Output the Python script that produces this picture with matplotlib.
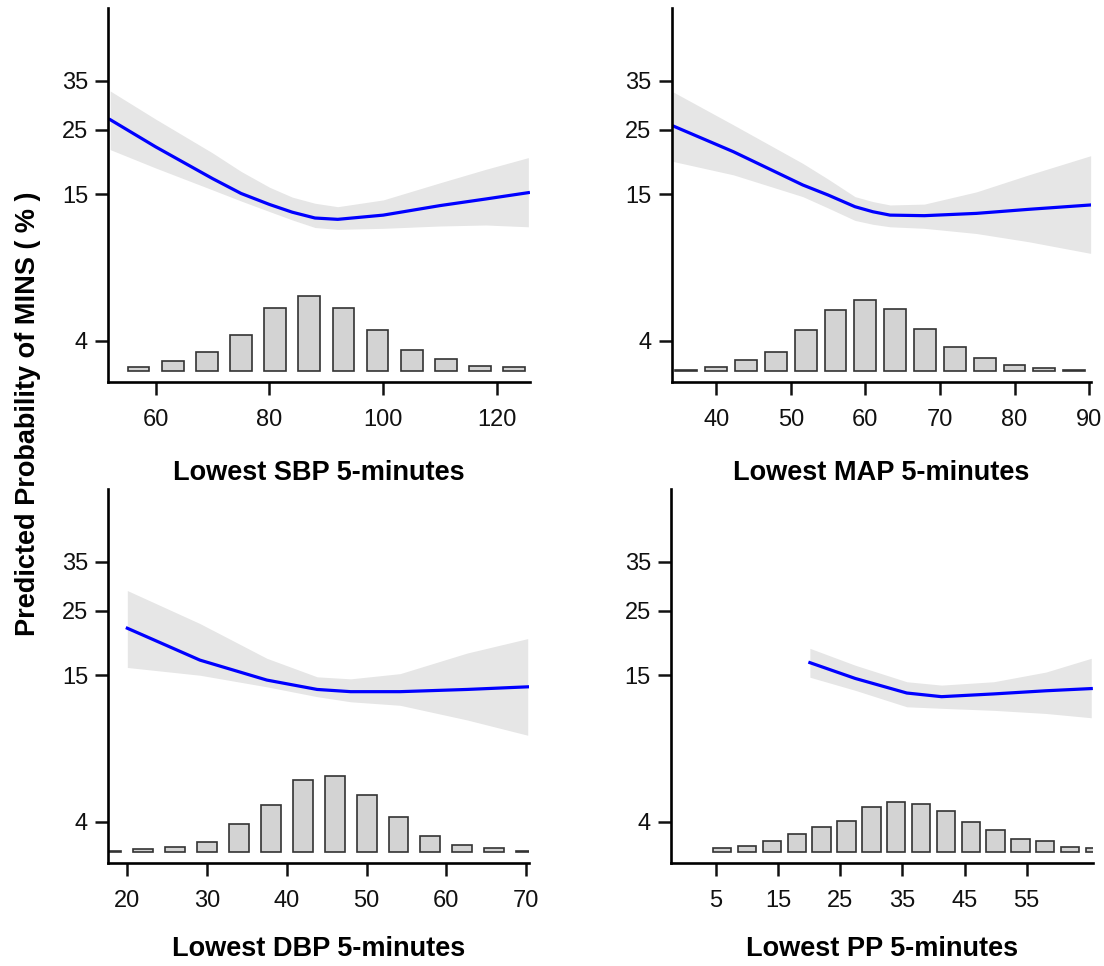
import numpy as np
import matplotlib.pyplot as plt

plt.rcParams['font.family'] = ['Liberation Sans', 'DejaVu Sans']

# predicted probability (%) with 95% band
sbp_x = [52, 60, 70, 75, 80, 84, 88, 92, 100, 110, 118, 125.5]
sbp_fit = [26.9, 21.96, 17.07, 15.1, 13.76, 12.88, 12.25, 12.11, 12.56, 13.63, 14.41, 15.2]
sbp_hi = [32.8, 27.0, 20.95, 18.1, 15.9, 14.64, 13.9, 13.5, 14.3, 16.5, 18.4, 20.2]
sbp_lo = [21.5, 18.6, 15.55, 14.17, 12.95, 12.05, 11.28, 11.1, 11.2, 11.43, 11.53, 11.35]

map_x = [34.2, 42.3, 51.6, 55, 58.6, 61, 63.3, 67.9, 74.9, 81.9, 90.2]
map_fit = [25.7, 21.15, 16.2, 14.9, 13.5, 12.93, 12.56, 12.5, 12.75, 13.2, 13.7]
map_hi = [32.6, 25.9, 19.3, 17.0, 14.7, 14.1, 13.7, 13.8, 15.3, 17.6, 20.5]
map_lo = [19.6, 17.6, 14.7, 13.35, 12.0, 11.6, 11.35, 11.2, 10.7, 9.95, 8.97]

dbp_x = [20, 29.1, 37.5, 43.8, 48, 54.2, 62.6, 70.2]
dbp_fit = [21.9, 17.0, 14.4, 13.3, 13.05, 13.05, 13.3, 13.6]
dbp_hi = [28.9, 22.7, 17.25, 14.8, 14.55, 15.2, 18.0, 20.2]
dbp_lo = [16.0, 15.0, 13.6, 12.5, 11.96, 11.6, 10.2, 8.9]

pp_x = [20.1, 27.4, 35.7, 41.3, 49.7, 58.1, 65.4]
pp_fit = [16.65, 14.6, 12.9, 12.5, 12.8, 13.15, 13.4]
pp_hi = [18.7, 16.3, 14.2, 13.8, 14.2, 15.4, 17.25]
pp_lo = [14.75, 13.2, 11.45, 11.3, 11.1, 10.8, 10.4]

# histogram of the exposure (relative frequency, arbitrary units)
sbp_bins = [57, 63, 69, 75, 81, 87, 93, 99, 105, 111, 117, 123]
sbp_freq = [4, 10, 19, 36, 63, 75, 62.3, 40.3, 20.7, 11.7, 4.7, 3.3]
map_bins = [36, 40, 44, 48, 52, 56, 60, 64, 68, 72, 76, 80, 84, 88]
map_freq = [0.7, 3.7, 10.7, 19, 40.3, 60.3, 70.7, 62, 41.7, 23.3, 12.3, 5.7, 2.7, 0.7]
dbp_bins = [18, 22, 26, 30, 34, 38, 42, 46, 50, 54, 58, 62, 66, 70]
dbp_freq = [0.7, 2.3, 4.7, 9.7, 27.7, 46.7, 71.7, 75.3, 57, 34.3, 16, 7, 3.7, 0.7]
pp_bins = [6, 10, 14, 18, 22, 26, 30, 34, 38, 42, 46, 50, 54, 58, 62, 66]
pp_freq = [3.7, 6, 10.7, 18, 24.7, 30.7, 44.7, 50, 47.7, 40.3, 29.7, 21.3, 12.7, 10.3, 4.3, 3.7]

y_ticks = [4, 15, 25, 35]

W, H = 1104, 966


def logit_pct(p):
    p = np.clip(np.asarray(p, dtype=float), 1e-6, 100 - 1e-6)
    return np.log(p / (100 - p))


def inv_logit_pct(z):
    return 100 / (1 + np.exp(-np.asarray(z, dtype=float)))


fig = plt.figure(figsize=(W / 100, H / 100), dpi=100)


def panel(box, x, fit, lo, hi, bins, freq, bin_w, xlim, xticks, xlabel, label_gap):
    left, right, top, bottom = box
    ax = fig.add_axes([left / W, 1 - bottom / H, (right - left) / W, (bottom - top) / H])
    ax2 = ax.twinx()
    ax2.bar(bins, freq, width=bin_w, color='#d3d3d3', edgecolor='#333333', linewidth=1.2)
    ax2.set_ylim(-11.3, 362.7)
    ax2.axis('off')
    ax.set_zorder(ax2.get_zorder() + 1)
    ax.patch.set_visible(False)

    ax.set_yscale('function', functions=(logit_pct, inv_logit_pct))
    ax.fill_between(x, lo, hi, color='#e6e6e6', lw=0)
    ax.plot(x, fit, color='#0000ff', lw=2.3)
    ax.set_ylim(2.70, 52.5)
    ax.set_xlim(*xlim)
    ax.set_yticks(y_ticks)
    ax.set_yticklabels([str(t) for t in y_ticks])
    ax.set_xticks(xticks)
    ax.set_xticklabels([str(t) for t in xticks])
    for s in ['top', 'right']:
        ax.spines[s].set_visible(False)
    for s in ['left', 'bottom']:
        ax.spines[s].set_linewidth(1.9)
    ax.tick_params(direction='out', length=9.4, width=1.8, labelsize=17, colors='#111111')
    ax.tick_params(axis='x', pad=10)
    ax.tick_params(axis='y', pad=5)
    fig.text((left + right) / 2 / W, 1 - (bottom + label_gap) / H, xlabel,
             ha='center', va='baseline', fontsize=19.5, fontweight='bold')
    return ax


panel((108, 529.5, 8, 382), sbp_x, sbp_fit, sbp_lo, sbp_hi, sbp_bins, sbp_freq, 3.8,
      (51.62, 125.7), [60, 80, 100, 120], 'Lowest SBP 5-minutes', 98)
panel((671.5, 1091, 8, 382), map_x, map_fit, map_lo, map_hi, map_bins, map_freq, 2.93,
      (34.0, 90.25), [40, 50, 60, 70, 80, 90], 'Lowest MAP 5-minutes', 98)
panel((108, 528.5, 489, 863), dbp_x, dbp_fit, dbp_lo, dbp_hi, dbp_bins, dbp_freq, 2.5,
      (17.58, 70.3), [20, 30, 40, 50, 60, 70], 'Lowest DBP 5-minutes', 93)
panel((671, 1092.5, 489, 863), pp_x, pp_fit, pp_lo, pp_hi, pp_bins, pp_freq, 2.96,
      (-2.26, 65.6), [5, 15, 25, 35, 45, 55], 'Lowest PP 5-minutes', 93)

fig.text(28 / W, 1 - 413.5 / H, 'Predicted Probability of MINS ( % )', rotation=90,
         ha='center', va='center', fontsize=19.5, fontweight='bold')

fig.savefig('out.png', dpi=100)
